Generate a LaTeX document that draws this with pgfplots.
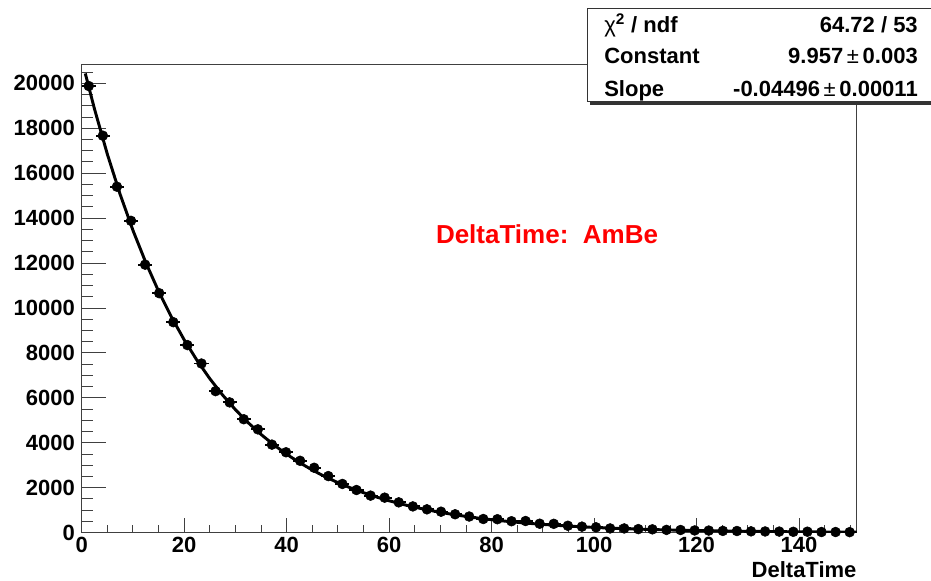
\documentclass[border=0pt]{standalone}
\usepackage{pgfplots}
\pgfplotsset{compat=1.18}
\usepackage{pgfplotstable}
\usepackage{fontspec}
\setmainfont{Liberation Sans}

\pgfplotstableread{
x y ex ey
1.375 19880 1.375 141
4.125 17670 1.375 133
6.875 15400 1.375 124
9.625 13880 1.375 118
12.375 11930 1.375 109
15.125 10660 1.375 103
17.875 9370 1.375 97
20.625 8350 1.375 91
23.375 7530 1.375 87
26.125 6300 1.375 79
28.875 5800 1.375 76
31.625 5050 1.375 71
34.375 4600 1.375 68
37.125 3920 1.375 63
39.875 3580 1.375 60
42.625 3200 1.375 57
45.375 2890 1.375 54
48.125 2520 1.375 50
50.875 2170 1.375 47
53.625 1900 1.375 44
56.375 1650 1.375 41
59.125 1560 1.375 39
61.875 1350 1.375 37
64.625 1170 1.375 34
67.375 1040 1.375 32
70.125 935 1.375 31
72.875 820 1.375 29
75.625 720 1.375 27
78.375 610 1.375 25
81.125 600 1.375 24
83.875 510 1.375 23
86.625 520 1.375 23
89.375 400 1.375 20
92.125 395 1.375 20
94.875 310 1.375 18
97.625 270 1.375 16
100.375 240 1.375 15
103.125 190 1.375 14
105.875 190 1.375 14
108.625 160 1.375 13
111.375 150 1.375 12
114.125 125 1.375 11
116.875 120 1.375 11
119.625 100 1.375 10
122.375 95 1.375 10
125.125 80 1.375 9
127.875 75 1.375 9
130.625 60 1.375 8
133.375 55 1.375 7
136.125 50 1.375 7
138.875 40 1.375 6
141.625 45 1.375 7
144.375 30 1.375 5
147.125 30 1.375 5
149.875 25 1.375 5
}\histdata

\pgfplotstableread{
x y
0.7 20440
2.5 18856
5 16851
7.5 15060
10 13459
12.5 12028
15 10749
17.5 9606
20 8585
22.5 7672
25 6856
27.5 6127
30 5476
32.5 4894
35 4374
37.5 3909
40 3493
42.5 3122
45 2790
47.5 2493
50 2228
52.5 1991
55 1780
57.5 1590
60 1421
62.5 1270
65 1135
67.5 1014
70 907
72.5 810
75 724
77.5 647
80 578
82.5 517
85 462
87.5 413
90 369
92.5 330
95 295
97.5 263
100 235
102.5 210
105 188
107.5 168
110 150
112.5 134
115 120
117.5 107
120 96
122.5 86
125 76
127.5 68
130 61
132.5 55
135 49
137.5 44
140 39
142.5 35
145 31
147.5 28
150 25
151.25 23.5
}\fitdata

\newcommand{\lbl}{\fontsize{16.5}{19}\selectfont\bfseries}

\pgfplotsset{
  rootaxis/.style={
    at={(61.275pt,36.225pt)}, anchor=south west, scale only axis,
    width=581.25pt, height=351pt,
    xmin=0, xmax=151.25, ymin=0, ymax=20830,
    axis line style={black!75, line width=0.75pt},
    every tick/.style={black!75, line width=0.75pt},
    tick align=inside,
    /pgf/number format/assume math mode=true,
    /pgf/number format/1000 sep={},
    scaled ticks=false,
    tick label style={font=\lbl, inner sep=0pt},
  }
}

\begin{document}
\begin{tikzpicture}[x=1pt,y=1pt]
\useasboundingbox (0,0) rectangle (698.25,435.75);
% y ticks axis
\begin{axis}[rootaxis,
  xtick=\empty,
  ytick={0,2000,...,20000},
  minor ytick={500,1000,...,20500},
  ytick pos=left,
  major tick length=18.25pt, minor tick length=8.75pt,
  yticklabel style={anchor=east, xshift=-5pt},
]
\end{axis}
% main axis with x ticks and data
\begin{axis}[rootaxis, name=main,
  ytick=\empty,
  xtick={0,20,...,140},
  minor xtick={5,10,...,150},
  xtick pos=bottom,
  major tick length=10.7pt, minor tick length=5.75pt,
  xticklabel style={anchor=north, yshift=-3.3pt},
]
\addplot[black, line width=2.2pt] table[x=x, y=y] {\fitdata};
\addplot[black, only marks, mark=*, mark size=3.7pt,
  error bars/.cd, x dir=both, x explicit, y dir=both, y explicit,
  error mark=none, error bar style={line width=1.4pt, black}]
  table[x=x, y=y, x error=ex, y error=ey] {\histdata};
\node[inner sep=0pt, text=red, font=\fontsize{19.5}{23}\selectfont\bfseries] at (rel axis cs:0.6004,0.638) {DeltaTime:\ \ AmBe};
\end{axis}
\node[anchor=east, inner sep=0pt, font=\lbl] at ([yshift=-28pt]main.south east) {DeltaTime};
% stats box
\fill[black!80] (442.25,357.25) rectangle (710,427);
\filldraw[fill=white, draw=black!80, line width=0.75pt] (440.25,359.25) rectangle (708,429);
\node[anchor=base west, inner sep=0pt, font=\lbl] at (453,411.1) {{\mdseries χ}\textsuperscript{2} / ndf};
\node[anchor=base east, inner sep=0pt, font=\lbl] at (688.5,411.1) {64.72 / 53};
\node[anchor=base west, inner sep=0pt, font=\lbl] at (453,387.85) {Constant};
\node[anchor=base east, inner sep=0pt, font=\lbl] at (688.5,387.85) {9.957\,{\mdseries ±}\,0.003};
\node[anchor=base west, inner sep=0pt, font=\lbl] at (453,363.6) {Slope};
\node[anchor=base east, inner sep=0pt, font=\lbl] at (688.5,363.6) {-0.04496\,{\mdseries ±}\,0.00011};
\end{tikzpicture}
\end{document}
